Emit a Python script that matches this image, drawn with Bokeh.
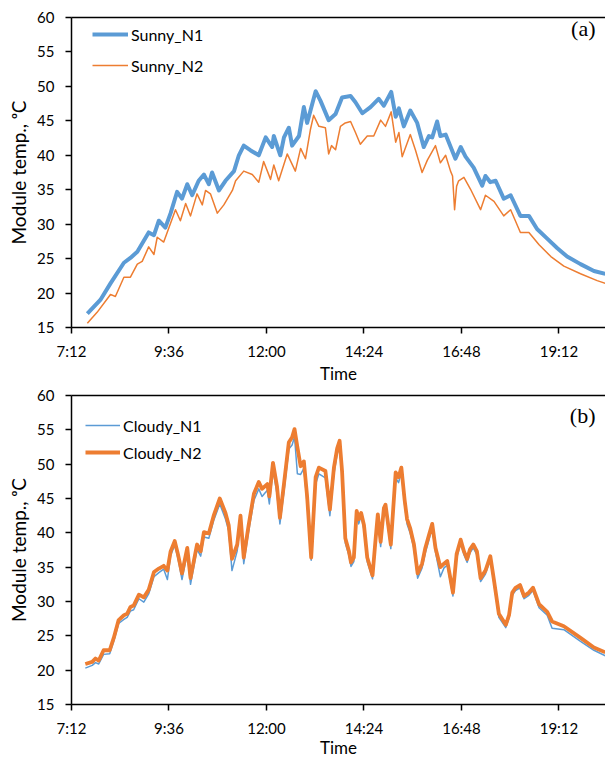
from bokeh.plotting import figure
from bokeh.models import Range1d, FixedTicker, LinearAxis, Legend, LegendItem, Label
from bokeh.layouts import column
from bokeh.embed import file_html
from bokeh.resources import INLINE

# ---------------- data (time in decimal hours, temperature in degC) ----------------
tick_hours = [7.2, 9.6, 12.0, 14.4, 16.8, 19.2]
tick_labels = ["7:12", "9:36", "12:00", "14:24", "16:48", "19:12"]
y_ticks = [15, 20, 25, 30, 35, 40, 45, 50, 55, 60]

sunny_n1_t = [7.59, 7.91, 8.16, 8.49, 8.65, 8.82, 9.10, 9.23, 9.35, 9.51, 9.64, 9.80, 9.92,
              10.05, 10.17, 10.33, 10.46, 10.58, 10.66, 10.83, 10.99, 11.20, 11.32, 11.44,
              11.61, 11.81, 11.98, 12.14, 12.18, 12.34, 12.43, 12.55, 12.63, 12.80, 12.92,
              13.00, 13.21, 13.33, 13.53, 13.70, 13.86, 14.07, 14.19, 14.36, 14.56, 14.76,
              14.89, 15.07, 15.18, 15.26, 15.38, 15.54, 15.71, 15.87, 16.00, 16.08, 16.20,
              16.28, 16.41, 16.65, 16.78, 16.90, 17.10, 17.31, 17.39, 17.51, 17.64, 17.84,
              18.01, 18.25, 18.46, 18.66, 18.91, 19.16, 19.40, 19.73, 20.06, 20.34]
sunny_n1 = [17.0, 19.0, 21.4, 24.4, 25.1, 26.0, 28.8, 28.4, 30.5, 29.5, 31.6, 34.7, 33.7,
            35.8, 34.2, 36.3, 37.2, 35.8, 37.5, 34.9, 36.3, 37.7, 40.0, 41.4,
            40.7, 40.0, 42.6, 41.2, 42.8, 40.0, 42.6, 44.0, 41.4, 42.8, 47.0,
            44.7, 49.3, 47.9, 45.1, 46.0, 48.4, 48.6, 47.7, 46.1, 47.0, 48.2,
            47.2, 49.2, 45.6, 46.8, 44.2, 46.5, 44.7, 41.2, 42.8, 42.6, 44.9,
            42.8, 43.0, 39.5, 41.2, 39.8, 38.2, 35.6, 37.0, 36.1, 36.3, 33.7,
            34.2, 31.2, 31.2, 29.3, 27.9, 26.5, 25.3, 24.2, 23.2, 22.8]

sunny_n2_t = [7.59, 7.83, 8.16, 8.28, 8.49, 8.65, 8.82, 8.94, 9.10, 9.23, 9.31, 9.47, 9.60,
              9.76, 9.88, 10.01, 10.13, 10.29, 10.42, 10.50, 10.62, 10.79, 10.95, 11.16,
              11.24, 11.44, 11.65, 11.81, 11.93, 12.10, 12.18, 12.30, 12.51, 12.71, 12.84,
              12.96, 13.08, 13.16, 13.29, 13.45, 13.53, 13.60, 13.70, 13.82, 13.94, 14.07,
              14.19, 14.31, 14.48, 14.64, 14.81, 14.93, 15.07, 15.18, 15.26, 15.34, 15.54,
              15.67, 15.83, 15.96, 16.16, 16.28, 16.41, 16.53, 16.58, 16.63, 16.68, 16.73,
              16.86, 17.02, 17.27, 17.39, 17.60, 17.84, 18.01, 18.25, 18.46, 18.71, 19.00,
              19.32, 19.73, 20.14, 20.34]
sunny_n2 = [15.6, 17.2, 19.8, 19.5, 22.3, 22.3, 24.2, 24.6, 26.7, 25.6, 28.1, 27.4, 29.5,
            32.1, 30.5, 33.0, 31.2, 34.4, 32.8, 34.9, 34.4, 31.6, 32.8, 34.9,
            36.3, 37.7, 37.2, 36.1, 39.1, 36.5, 38.6, 36.3, 40.2, 37.7, 41.0,
            39.5, 43.7, 45.8, 44.2, 44.0, 40.2, 41.4, 40.8, 44.2, 44.7, 44.9,
            43.3, 41.6, 42.8, 42.8, 45.1, 44.2, 46.3, 41.9, 43.3, 39.8, 43.0,
            40.7, 37.5, 39.3, 41.4, 38.9, 40.0, 37.7, 37.0, 32.1, 35.5, 36.3,
            36.8, 35.1, 32.1, 34.2, 33.3, 31.2, 32.1, 28.8, 28.8, 27.0, 25.3,
            23.9, 22.8, 21.8, 21.4]

cloudy_t = [7.54, 7.71, 7.79, 7.87, 7.99, 8.14, 8.24, 8.36, 8.49, 8.57, 8.65, 8.73, 8.86,
            8.98, 9.10, 9.23, 9.35, 9.47, 9.56, 9.64, 9.74, 9.82, 9.92, 10.05, 10.13,
            10.29, 10.38, 10.46, 10.58, 10.70, 10.85, 10.99, 11.07, 11.15, 11.28, 11.36,
            11.44, 11.56, 11.69, 11.81, 11.89, 12.02, 12.07, 12.16, 12.26, 12.33, 12.43,
            12.55, 12.63, 12.69, 12.76, 12.84, 12.92, 13.00, 13.10, 13.21, 13.29, 13.45,
            13.56, 13.66, 13.74, 13.80, 13.86, 13.94, 14.03, 14.08, 14.15, 14.22, 14.27,
            14.33, 14.40, 14.48, 14.61, 14.68, 14.74, 14.81, 14.89, 14.93, 15.06, 15.18,
            15.25, 15.32, 15.40, 15.46, 15.54, 15.63, 15.72, 15.83, 15.91, 16.00, 16.08,
            16.16, 16.28, 16.37, 16.45, 16.59, 16.68, 16.78, 16.86, 16.94, 17.01, 17.09,
            17.18, 17.27, 17.39, 17.51, 17.60, 17.72, 17.89, 17.97, 18.05, 18.13, 18.24,
            18.34, 18.46, 18.56, 18.71, 18.91, 19.03, 19.32, 19.73, 20.06, 20.34]
cloudy_n2 = [20.9, 21.2, 21.7, 21.4, 22.9, 22.9, 24.7, 27.3, 28.0, 28.2, 29.2, 29.4, 31.0,
             30.6, 31.7, 34.3, 34.8, 35.2, 34.5, 37.3, 38.8, 36.9, 34.1, 37.8, 33.4,
             38.3, 37.3, 40.1, 39.9, 42.5, 45.0, 42.9, 41.1, 36.2, 38.3, 42.5,
             36.4, 41.1, 45.7, 47.4, 46.4, 47.1, 45.3, 50.2, 46.7, 42.2, 47.1,
             53.2, 53.9, 55.1, 52.5, 49.7, 50.4, 45.3, 36.4, 48.1, 49.5, 49.0,
             43.4, 49.5, 52.3, 53.4, 49.0, 39.2, 37.3, 35.7, 36.4, 43.2, 42.0,
             42.9, 41.1, 36.4, 33.8, 38.7, 42.7, 38.7, 43.6, 44.1, 38.3, 48.8,
             48.1, 49.5, 44.8, 42.0, 40.6, 38.3, 34.1, 35.5, 37.8, 39.7, 41.3,
             37.8, 35.0, 35.5, 35.9, 31.3, 36.9, 39.0, 37.3, 36.2, 37.6, 38.3,
             37.3, 33.4, 34.5, 36.6, 33.1, 28.2, 26.6, 28.0, 31.3, 32.0, 32.4,
             30.8, 31.3, 32.0, 29.6, 28.5, 27.1, 26.4, 24.7, 23.3, 22.6]
cloudy_n1 = [20.3, 20.7, 21.1, 20.9, 22.3, 22.4, 24.2, 26.8, 27.4, 27.7, 28.6, 28.8, 30.4,
             29.9, 31.1, 33.6, 34.2, 34.7, 33.2, 36.7, 38.2, 36.3, 33.2, 37.1, 32.5,
             37.6, 36.6, 39.4, 39.2, 41.8, 44.2, 42.0, 40.3, 34.5, 37.4, 41.6,
             35.5, 40.2, 44.7, 46.4, 45.3, 46.2, 44.2, 49.2, 45.6, 41.3, 46.0,
             52.2, 52.8, 54.0, 48.6, 48.5, 49.4, 44.3, 36.0, 47.1, 48.6, 48.0,
             42.5, 48.6, 51.5, 52.6, 48.1, 38.5, 36.7, 35.1, 35.8, 42.5, 41.3,
             42.5, 40.4, 35.8, 33.3, 38.0, 42.0, 38.0, 43.0, 43.5, 37.7, 48.0,
             47.3, 48.8, 44.1, 41.3, 39.9, 37.7, 33.4, 34.9, 37.1, 39.0, 40.7,
             37.2, 33.6, 34.9, 35.3, 30.8, 36.3, 38.5, 36.8, 35.7, 37.1, 37.8,
             36.8, 32.9, 34.0, 36.1, 32.6, 27.7, 26.2, 27.6, 30.9, 31.6, 32.0,
             30.4, 30.9, 31.6, 29.1, 28.0, 26.1, 25.9, 24.2, 22.9, 22.1]

# ---------------- styling ----------------
BLUE = "#5B9BD5"
ORANGE = "#ED7D31"
FONT = "Lato"
X_START_MIN = 7.2 * 60
X_END_MIN = 20.345 * 60


def to_min(hours):
    return [h * 60 for h in hours]


def make_panel(height, border_top, border_bottom, time_standoff):
    p = figure(width=605, height=height, output_backend="svg", toolbar_location=None,
               x_range=Range1d(X_START_MIN, X_END_MIN), y_range=Range1d(15, 60),
               min_border_left=71, min_border_right=0,
               min_border_top=border_top, min_border_bottom=border_bottom)
    p.xgrid.visible = False
    p.ygrid.visible = False
    p.outline_line_color = None
    p.background_fill_color = "white"
    p.border_fill_color = "white"

    tick_min = [int(round(h * 60)) for h in tick_hours]
    p.xaxis.ticker = FixedTicker(ticks=tick_min)
    p.xaxis.major_label_overrides = {t: lab for t, lab in zip(tick_min, tick_labels)}
    p.yaxis.ticker = FixedTicker(ticks=y_ticks)
    for ax in (p.xaxis, p.yaxis):
        ax.axis_line_color = "black"
        ax.axis_line_width = 1.5
        ax.major_tick_line_color = "black"
        ax.major_tick_line_width = 1.5
        ax.major_tick_out = 6
        ax.major_tick_in = 0
        ax.minor_tick_line_color = None
        ax.major_label_text_font = FONT
        ax.major_label_text_font_size = "15px"
        ax.major_label_text_color = "black"
        ax.axis_label_text_font = FONT
        ax.axis_label_text_font_style = "normal"
        ax.axis_label_text_color = "black"
    p.xaxis.major_label_standoff = 8
    p.yaxis.major_label_standoff = 11

    p.xaxis.axis_label = "Time"
    p.xaxis.axis_label_text_font_size = "17px"
    p.xaxis.axis_label_standoff = time_standoff

    p.yaxis.axis_label = "Module temp., \u1d52C"
    p.yaxis.axis_label_text_font_size = "19px"
    p.yaxis.axis_label_standoff = 4

    top_axis = LinearAxis(ticker=FixedTicker(ticks=[]), axis_line_color="black",
                          axis_line_width=1.5, major_tick_line_color=None,
                          minor_tick_line_color=None, major_label_text_font_size="0px")
    p.add_layout(top_axis, "above")
    return p


def add_legend(p, items, vx, vy, glyph_w, spacing):
    leg = Legend(items=items, location=(vx, vy), glyph_width=glyph_w, glyph_height=20,
                 label_height=20, label_standoff=3, spacing=spacing, padding=0, margin=0,
                 background_fill_alpha=0, border_line_color=None,
                 label_text_font=FONT, label_text_font_size="16px",
                 label_text_color="black")
    p.add_layout(leg)


def add_tag(p, text, y_px):
    p.add_layout(Label(x=524, y=y_px, x_units="screen", y_units="screen", text=text,
                       text_align="right", text_baseline="middle",
                       text_font="Liberation Serif", text_font_size="22px",
                       text_color="black"))


# ---------------- panel (a) ----------------
p1 = make_panel(386, 17, 47, 0)
r11 = p1.line(to_min(sunny_n1_t), sunny_n1, line_color=BLUE, line_width=4, line_join="round")
r12 = p1.line(to_min(sunny_n2_t), sunny_n2, line_color=ORANGE, line_width=1.5, line_join="round")
add_legend(p1, [LegendItem(label="Sunny_N1", renderers=[r11]),
                LegendItem(label="Sunny_N2", renderers=[r12])], 21, 252, 36, 11)
add_tag(p1, "(a)", 299)

# ---------------- panel (b) ----------------
p2 = make_panel(374, 9, 44, -3)
r21 = p2.line(to_min(cloudy_t), cloudy_n1, line_color=BLUE, line_width=1.5, line_join="round")
r22 = p2.line(to_min(cloudy_t), cloudy_n2, line_color=ORANGE, line_width=3.8, line_join="round")
add_legend(p2, [LegendItem(label="Cloudy_N1", renderers=[r21]),
                LegendItem(label="Cloudy_N2", renderers=[r22])], 14, 242, 35, 7)
add_tag(p2, "(b)", 289)

layout = column(p1, p2, spacing=0)
open("out.html", "w").write(file_html(layout, INLINE, "Module temperature"))
